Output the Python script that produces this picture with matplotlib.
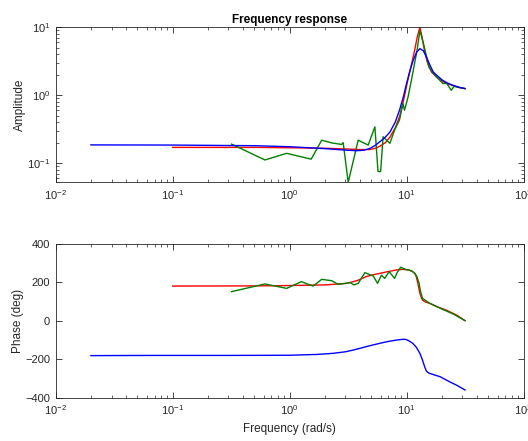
import matplotlib.pyplot as plt

plt.switch_backend('Agg')
plt.rcParams['font.family'] = ['Liberation Sans', 'DejaVu Sans']
plt.rcParams['mathtext.fontset'] = 'custom'
plt.rcParams['mathtext.rm'] = 'Liberation Sans'
plt.rcParams['mathtext.it'] = 'Liberation Sans:italic'
plt.rcParams['mathtext.bf'] = 'Liberation Sans:bold'

# model (blue)
f_model = [0.02, 0.1, 0.5, 1.0, 2.0, 3.0, 3.7, 4.3, 4.85, 5.4, 5.9, 6.5, 7.2,
           8.0, 8.7, 9.4, 10.0, 10.7, 11.4, 12.2, 13.0, 13.9, 14.8, 15.8, 16.9,
           18.5, 20.3, 22.5, 24.9, 28.0, 31.6]
amp_model = [0.185, 0.184, 0.18, 0.174, 0.163, 0.155, 0.152, 0.154, 0.164, 0.182,
             0.206, 0.235, 0.285, 0.4, 0.6, 0.95, 1.49, 2.3, 3.27, 4.3, 4.86,
             4.5, 3.66, 2.8, 2.2, 1.9, 1.66, 1.5, 1.40, 1.31, 1.25]
f_model_ph = [0.02, 0.064, 0.3, 1.0, 1.7, 2.36, 3.0, 3.5, 4.0, 4.54, 5.2, 5.9,
              7.0, 8.2, 9.0, 9.7, 10.0, 10.6, 11.3, 12.1, 13.0, 13.7, 14.3, 14.8,
              15.5, 17.0, 19.4, 23.3, 27.0, 31.6]
ph_model = [-181, -180, -180, -179, -175, -169, -161, -152, -143, -134, -125,
            -117, -107, -100, -97, -96, -98, -106, -117, -137, -169, -205, -240,
            -262, -272, -280, -291, -317, -336, -360]

# true system (red)
f_true = [0.1, 0.5, 1.0, 2.0, 3.07, 4.0, 4.85, 5.5, 6.0, 6.6, 7.2, 8.0, 8.7,
          9.2, 9.7, 10.2, 10.7, 11.2, 11.7, 12.3, 13.0, 13.6, 14.2, 15.0, 16.3,
          18.0, 20.3, 22.5, 24.9, 28.0, 31.6]
amp_true = [0.17, 0.17, 0.168, 0.165, 0.161, 0.158, 0.158, 0.166, 0.18, 0.2,
            0.24, 0.33, 0.48, 0.7, 1.06, 1.6, 2.3, 3.2, 4.5, 7.0, 10.0, 7.0, 4.6,
            3.1, 2.2, 1.85, 1.6, 1.47, 1.38, 1.3, 1.25]
f_true_ph = [0.1, 0.5, 0.826, 2.0, 3.07, 3.8, 4.5, 5.2, 5.9, 7.0, 8.2, 9.3,
             10.4, 11.3, 11.8, 12.1, 12.5, 13.0, 13.4, 13.7, 14.5, 15.8, 18.5,
             21.8, 26.8, 31.6]
ph_true = [181, 182, 183, 187, 195, 210, 230, 240, 247, 257, 265, 268, 265,
           256, 245, 230, 195, 143, 120, 108, 98, 91, 72, 56, 30, 1]

# measured (green)
f_meas = [0.319, 0.615, 0.943, 1.53, 1.88, 2.29, 2.78, 2.87, 3.17, 3.86, 4.1,
          4.7, 5.36, 5.7, 6.0, 6.3, 7.2, 7.9, 8.7, 9.3, 9.6, 10.3, 11.0, 12.3,
          13.0, 14.2, 15.5, 17.0, 18.6, 20.5, 22.0, 24.1, 25.5, 28.0, 31.6]
amp_meas = [0.19, 0.111, 0.139, 0.114, 0.217, 0.198, 0.188, 0.2, 0.052, 0.218,
            0.206, 0.184, 0.342, 0.075, 0.075, 0.244, 0.195, 0.306, 0.43, 0.75,
            0.6, 0.94, 1.66, 4.6, 9.0, 5.1, 2.6, 2.08, 1.76, 1.48, 1.5, 1.18,
            1.35, 1.3, 1.25]
f_meas_ph = [0.319, 0.615, 0.943, 1.26, 1.59, 1.88, 2.29, 2.6, 3.3, 3.55, 3.86,
             4.4, 5.2, 5.65, 6.1, 6.5, 7.1, 7.9, 8.3, 8.9, 9.8, 11.0, 11.8, 12.3,
             12.8, 13.2, 13.7, 15.8, 20.3, 25.0, 31.6]
ph_meas = [152, 192, 169, 204, 181, 216, 209, 190, 199, 187, 195, 251, 233,
           195, 238, 221, 256, 221, 251, 279, 268, 261, 247, 228, 195, 150, 117,
           91, 60, 36, 1]

fig = plt.figure(figsize=(5.28, 4.41), dpi=100)
ax1 = fig.add_axes([0.1055, 0.5866, 0.886, 0.3515])
ax2 = fig.add_axes([0.1055, 0.0982, 0.886, 0.3485])

ax1.loglog(f_true, amp_true, color='red', lw=1.0)
ax1.loglog(f_meas, amp_meas, color='green', lw=1.0)
ax1.loglog(f_model, amp_model, color='blue', lw=1.0)
ax1.set_xlim(0.01, 100)
ax1.set_ylim(0.052, 10)
ax1.set_ylabel('Amplitude', fontsize=8.5, color='#262626', labelpad=1)
ax1.set_title('Frequency response', fontsize=8.5, fontweight='bold', pad=3)

ax2.semilogx(f_true_ph, ph_true, color='red', lw=1.0)
ax2.semilogx(f_meas_ph, ph_meas, color='green', lw=1.0)
ax2.semilogx(f_model_ph, ph_model, color='blue', lw=1.0)
ax2.set_xlim(0.01, 100)
ax2.set_ylim(-400, 400)
ax2.set_yticks([-400, -200, 0, 200, 400])
ax2.set_xlabel('Frequency (rad/s)', fontsize=8.5, color='#262626')
ax2.set_ylabel('Phase (deg)', fontsize=8.5, color='#262626', labelpad=1)

for ax in (ax1, ax2):
    ax.tick_params(which='both', direction='in', top=True, right=True,
                   labelsize=8, colors='#262626')
    ax.tick_params(which='major', length=4, width=0.6, pad=4)
    ax.tick_params(which='minor', length=2, width=0.5)
    for s in ax.spines.values():
        s.set_color('#262626')
        s.set_linewidth(0.6)

plt.savefig('out.png', dpi=100)
